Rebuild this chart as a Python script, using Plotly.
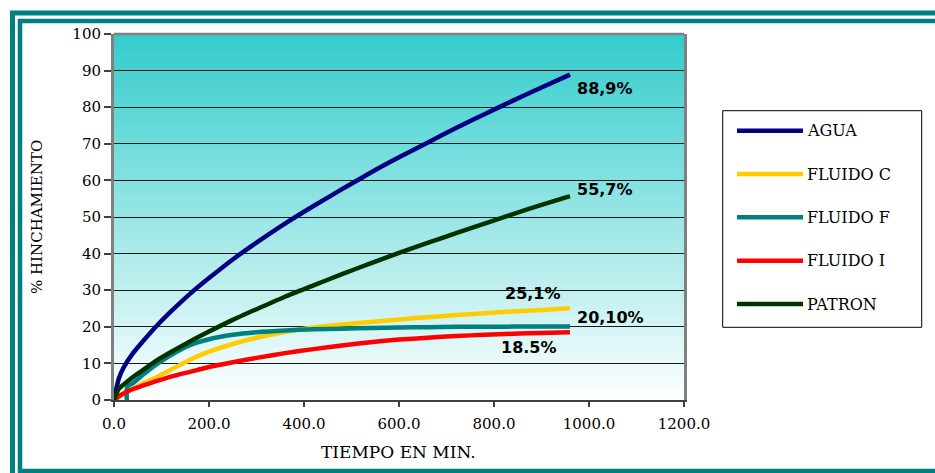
import plotly.graph_objects as go

# ---- data -------------------------------------------------------------
tiempo = [0, 10, 20, 40, 60, 90, 120, 160, 200, 250, 300, 360, 420, 480,
          540, 600, 660, 720, 780, 840, 900, 960]
agua = [0, 5.8, 8.8, 12.8, 15.9, 20.3, 24.2, 29.0, 33.3, 38.4, 43.0, 48.2,
        53.0, 57.6, 62.1, 66.3, 70.3, 74.3, 78.1, 81.8, 85.4, 88.9]
fluido_c = [0, 0.8, 1.6, 3.0, 4.5, 6.3, 8.3, 11.0, 13.2, 15.3, 17.0, 18.6,
            19.8, 20.6, 21.3, 22.0, 22.6, 23.2, 23.7, 24.2, 24.6, 25.1]
fluido_i = [0, 1.0, 1.8, 3.0, 3.9, 5.2, 6.4, 7.7, 9.0, 10.3, 11.5, 12.8,
            13.9, 14.9, 15.8, 16.5, 17.0, 17.5, 17.8, 18.1, 18.3, 18.5]
patron = [0, 3.0, 4.2, 6.3, 8.1, 10.8, 13.1, 16.0, 18.7, 21.9, 24.8, 28.2,
          31.3, 34.4, 37.3, 40.2, 42.9, 45.6, 48.2, 50.8, 53.3, 55.7]

tiempo_f = [27, 28, 40, 60, 90, 120, 160, 200, 250, 300, 360, 420, 480, 540,
            600, 660, 720, 780, 840, 900, 960]
fluido_f = [0, 3.6, 4.6, 6.8, 9.8, 12.3, 15.0, 16.6, 17.8, 18.5, 19.0, 19.3,
            19.5, 19.7, 19.8, 19.9, 20.0, 20.0, 20.05, 20.1, 20.1]

nombres = ["AGUA", "FLUIDO C", "FLUIDO F", "FLUIDO I", "PATRON"]
colores = ["#000080", "#FFCC00", "#008080", "#FF0000", "#003300"]
series_x = [tiempo, tiempo, tiempo_f, tiempo, tiempo]
series_y = [agua, fluido_c, fluido_f, fluido_i, patron]

etiquetas = ["88,9%", "25,1%", "20,10%", "18.5%", "55,7%"]
etiqueta_pos = [(970, 85.2), (818, 29.0), (970, 22.5), (810, 14.3), (970, 57.4)]

x_ticks = [0, 200, 400, 600, 800, 1000, 1200]
y_ticks = list(range(0, 101, 10))

# ---- geometry helpers --------------------------------------------------
W, H = 935, 473
L, R, T, B = 114, 684, 34, 400   # plot area in pixels


def px(xp):
    return (xp - L) / (R - L)


def py(yp):
    return (B - yp) / (B - T)


fig = go.Figure()

for nx, ny, nombre, color in zip(series_x, series_y, nombres, colores):
    fig.add_trace(go.Scatter(
        x=nx, y=ny, name=nombre, mode="lines",
        line=dict(color=color, width=4.5, shape="spline", smoothing=0.6),
        showlegend=False,
    ))

shapes = []

# vertical gradient background (white at bottom -> turquoise at top)
n_strips = 122
top_rgb = (51, 204, 204)
bot_rgb = (255, 255, 255)
for i in range(n_strips):
    f = (i + 0.5) / n_strips
    c = tuple(round(b + (t - b) * f) for t, b in zip(top_rgb, bot_rgb))
    shapes.append(dict(
        type="rect", xref="x domain", yref="y domain",
        x0=0, x1=1, y0=i / n_strips, y1=(i + 1) / n_strips + 0.002,
        fillcolor="rgb(%d,%d,%d)" % c, line=dict(width=0), layer="below",
    ))

# top border of plot area
shapes.append(dict(type="line", xref="paper", yref="paper",
                   x0=0, x1=1, y0=1, y1=1,
                   line=dict(color="#808080", width=2.5)))

# double teal frame around the whole chart
shapes.append(dict(type="rect", xref="paper", yref="paper",
                   x0=px(12.5), x1=px(960), y0=py(495), y1=py(13),
                   line=dict(color="#008080", width=5)))
shapes.append(dict(type="rect", xref="paper", yref="paper",
                   x0=px(20), x1=px(950), y0=py(471), y1=py(21),
                   line=dict(color="#008080", width=4.5)))

# legend box
shapes.append(dict(type="rect", xref="paper", yref="paper",
                   x0=px(722.7), x1=px(921.7), y0=py(327.3), y1=py(110.7),
                   line=dict(color="#000000", width=1), fillcolor="white"))

annotations = []
legend_rows = [130.7, 174.0, 217.3, 260.7, 304.0]
for nombre, color, yr in zip(nombres, colores, legend_rows):
    shapes.append(dict(type="line", xref="paper", yref="paper",
                       x0=px(737), x1=px(803), y0=py(yr), y1=py(yr),
                       line=dict(color=color, width=4.5)))
    annotations.append(dict(
        xref="paper", yref="paper", x=px(805), y=py(yr),
        xanchor="left", yanchor="middle", text=nombre, showarrow=False,
        font=dict(family="DejaVu Serif", size=16, color="black"),
    ))

for txt, (ax, ay) in zip(etiquetas, etiqueta_pos):
    annotations.append(dict(
        x=ax, y=ay, xref="x", yref="y", text="<b>%s</b>" % txt,
        xanchor="left", yanchor="middle", showarrow=False,
        font=dict(family="DejaVu Sans", size=16, color="black"),
    ))

# axis titles
annotations.append(dict(
    xref="paper", yref="paper", x=px(398), y=py(452),
    xanchor="center", yanchor="middle", text="TIEMPO EN MIN.",
    showarrow=False, font=dict(family="DejaVu Serif", size=17, color="black"),
))
annotations.append(dict(
    xref="paper", yref="paper", x=px(37), y=py(217),
    xanchor="center", yanchor="middle", text="% HINCHAMIENTO",
    textangle=-90, showarrow=False,
    font=dict(family="DejaVu Serif", size=15, color="black"),
))

fig.update_layout(
    width=W, height=H,
    margin=dict(l=L, r=W - R, t=T, b=H - B, pad=0),
    paper_bgcolor="white",
    plot_bgcolor="rgba(0,0,0,0)",
    shapes=shapes,
    annotations=annotations,
    showlegend=False,
    xaxis=dict(
        range=[0, 1200], tickvals=x_ticks, tickformat=".1f",
        showgrid=False, zeroline=False,
        showline=True, linecolor="#404040", linewidth=2,
        ticks="outside", ticklen=5, tickcolor="#404040", tickwidth=1.5,
        ticklabelstandoff=4,
        tickfont=dict(family="DejaVu Serif", size=15, color="black"),
        fixedrange=True,
    ),
    yaxis=dict(
        range=[0, 100], tickvals=y_ticks,
        showgrid=True, gridcolor="#1a1a1a", gridwidth=1, zeroline=False,
        showline=True, linecolor="#808080", linewidth=3, mirror=True,
        ticks="outside", ticklen=7, tickcolor="#404040", tickwidth=1.5,
        tickfont=dict(family="DejaVu Serif", size=15, color="black"),
        fixedrange=True,
    ),
)

fig.write_html("out.html")
